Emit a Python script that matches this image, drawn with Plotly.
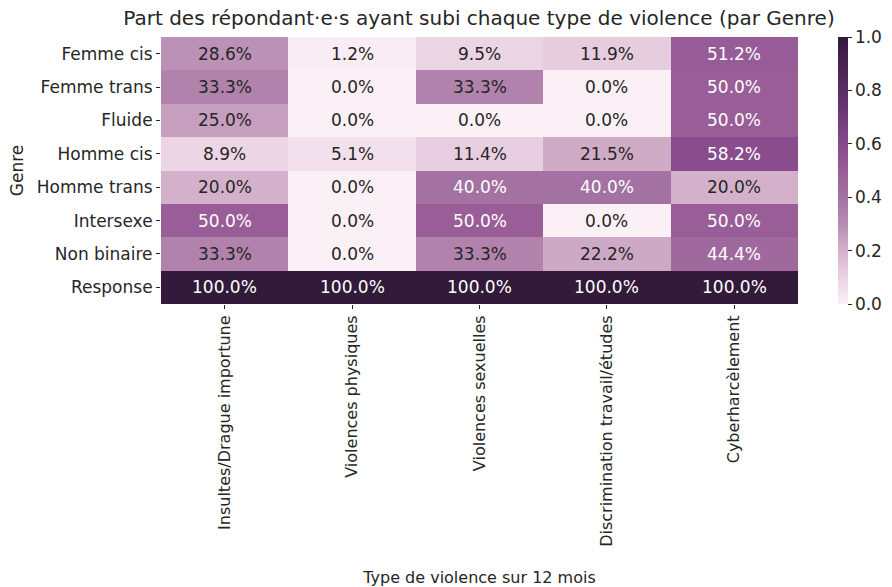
import plotly.graph_objects as go

genres = ["Femme cis", "Femme trans", "Fluide", "Homme cis", "Homme trans",
          "Intersexe", "Non binaire", "Response"]
violences = ["Insultes/Drague importune", "Violences physiques", "Violences sexuelles",
             "Discrimination travail/études", "Cyberharcèlement"]

insultes = [0.286, 0.333, 0.250, 0.089, 0.200, 0.500, 0.333, 1.0]
physiques = [0.012, 0.0, 0.0, 0.051, 0.0, 0.0, 0.0, 1.0]
sexuelles = [0.095, 0.333, 0.0, 0.114, 0.400, 0.500, 0.333, 1.0]
discrimination = [0.119, 0.0, 0.0, 0.215, 0.400, 0.0, 0.222, 1.0]
cyber = [0.512, 0.500, 0.500, 0.582, 0.200, 0.500, 0.444, 1.0]

columns = [insultes, physiques, sexuelles, discrimination, cyber]
z = [[col[i] for col in columns] for i in range(len(genres))]

colorscale = [
    [0.0, "#faf0f6"],
    [0.1, "#ead3e3"],
    [0.2, "#d4b1ca"],
    [0.3, "#b78cb1"],
    [0.4, "#a472a2"],
    [0.5, "#995d98"],
    [0.6, "#854a8c"],
    [0.8, "#5a2e66"],
    [1.0, "#33193a"],
]

font_family = "DejaVu Sans"
txt = "#262626"

fig = go.Figure()
fig.add_trace(go.Heatmap(
    z=z, x=violences, y=genres, zmin=0, zmax=1,
    colorscale=colorscale, xgap=0, ygap=0,
    hoverinfo="skip",
    colorbar=dict(
        thickness=10, len=1.0, lenmode="fraction", x=1.063, xanchor="left",
        y=0.5, yanchor="middle", outlinewidth=0, xpad=0, ypad=0,
        tickvals=[0, 0.2, 0.4, 0.6, 0.8, 1.0],
        ticktext=["0.0", "0.2", "0.4", "0.6", "0.8", "1.0"],
        ticks="outside", ticklen=4, tickcolor=txt,
        tickfont=dict(family=font_family, size=17, color=txt),
    ),
))

annotations = []
for i, g in enumerate(genres):
    for j, v in enumerate(violences):
        val = z[i][j]
        annotations.append(dict(
            x=v, y=g, xref="x", yref="y", text=f"{val*100:.1f}%",
            showarrow=False,
            font=dict(family=font_family, size=17,
                      color="#ffffff" if val >= 0.38 else txt),
        ))

fig.update_layout(
    width=892, height=587,
    margin=dict(l=161, r=94, t=37, b=283, autoexpand=False),
    paper_bgcolor="white", plot_bgcolor="white",
    font=dict(family=font_family, color=txt),
    title=dict(text="Part des répondant·e·s ayant subi chaque type de violence (par Genre)",
               x=0.537, xanchor="center", y=0.969, yanchor="middle",
               font=dict(family=font_family, size=20, color=txt)),
    annotations=annotations,
    xaxis=dict(
        tickangle=-90, ticks="outside", ticklen=4, tickcolor=txt,
        tickfont=dict(family=font_family, size=16, color=txt),
        showgrid=False, zeroline=False, showline=False,
        title=dict(text="Type de violence sur 12 mois", standoff=27,
                   font=dict(family=font_family, size=16, color=txt)),
    ),
    yaxis=dict(
        autorange="reversed", ticks="outside", ticklen=4, tickcolor=txt,
        tickfont=dict(family=font_family, size=17, color=txt),
        showgrid=False, zeroline=False, showline=False,
        title=dict(text="Genre", standoff=8,
                   font=dict(family=font_family, size=17, color=txt)),
    ),
)

fig.write_html("out.html", config={"displayModeBar": False},
               post_script="document.body.style.margin='0';")
